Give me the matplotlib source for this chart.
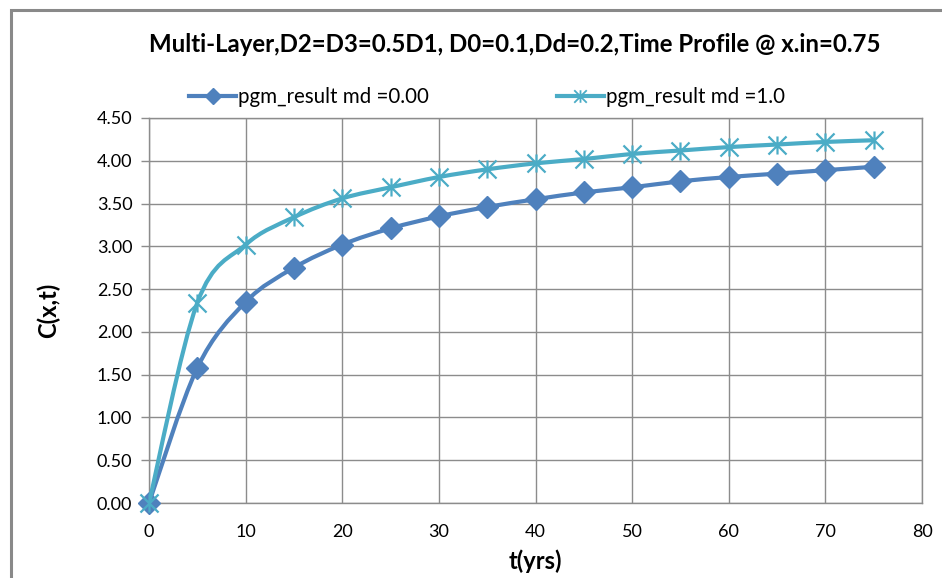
import numpy as np
import matplotlib.pyplot as plt
from matplotlib.path import Path
from matplotlib.patches import PathPatch, Rectangle
from matplotlib.lines import Line2D

plt.rcParams['font.family'] = ['Lato', 'DejaVu Sans']

# time profile at x.in = 0.75
t_yrs = [0, 5, 10, 15, 20, 25, 30, 35, 40, 45, 50, 55, 60, 65, 70, 75]
c_md0 = [0.00, 1.58, 2.35, 2.75, 3.02, 3.21, 3.35, 3.46, 3.55,
         3.63, 3.69, 3.76, 3.81, 3.85, 3.89, 3.93]
c_md1 = [0.00, 2.34, 3.02, 3.34, 3.56, 3.69, 3.81, 3.90, 3.97,
         4.02, 4.08, 4.12, 4.16, 4.19, 4.22, 4.24]
labels = ['pgm_result md =0.00', 'pgm_result md =1.0']
colors = ['#4F81BD', '#4BACC6']

x_ticks = list(range(0, 81, 10))
y_ticks = [0.0, 0.5, 1.0, 1.5, 2.0, 2.5, 3.0, 3.5, 4.0, 4.5]


def smooth_path(xs, ys):
    # catmull-rom style bezier through every point (like a spreadsheet "smoothed line")
    pts = np.column_stack([xs, ys]).astype(float)
    n = len(pts)
    verts = [pts[0]]
    codes = [Path.MOVETO]
    for i in range(n - 1):
        p0 = pts[max(i - 1, 0)]
        p1 = pts[i]
        p2 = pts[i + 1]
        p3 = pts[min(i + 2, n - 1)]
        verts += [p1 + (p2 - p0) / 6, p2 - (p3 - p1) / 6, p2]
        codes += [Path.CURVE4] * 3
    return Path(verts, codes)


# asterisk marker: vertical bar plus an X
star = Path([(0, -1), (0, 1), (-1, -1), (1, 1), (-1, 1), (1, -1)],
            [Path.MOVETO, Path.LINETO, Path.MOVETO, Path.LINETO, Path.MOVETO, Path.LINETO])

fig = plt.figure(figsize=(9.42, 5.78), dpi=100)
ax = fig.add_axes([149 / 942, 1 - 503 / 578, (922 - 149) / 942, (503 - 118) / 578])

# chart frame
fig.patches.append(Rectangle((11 / 942, -0.1), 1.2, 1 - 10 / 578 + 0.1, transform=fig.transFigure,
                             fill=False, edgecolor='#898989', linewidth=2.2, zorder=0))

ax.add_patch(PathPatch(smooth_path(t_yrs, c_md0), fill=False, edgecolor=colors[0],
                       linewidth=3, zorder=3, capstyle='round'))
ax.plot(t_yrs, c_md0, linestyle='none', marker='D', markersize=11,
        color=colors[0], markeredgecolor=colors[0], zorder=4, clip_on=False)

ax.add_patch(PathPatch(smooth_path(t_yrs, c_md1), fill=False, edgecolor=colors[1],
                       linewidth=3, zorder=5, capstyle='round'))
ax.plot(t_yrs, c_md1, linestyle='none', marker=star, markersize=13,
        markeredgewidth=1.6, color=colors[1], markeredgecolor=colors[1], zorder=6, clip_on=False)

ax.set_xlim(0, 80)
ax.set_ylim(0, 4.5)
ax.set_xticks(x_ticks)
ax.set_yticks(y_ticks)
ax.set_yticklabels(['%.2f' % v for v in y_ticks])
ax.tick_params(labelsize=13, colors='#8C8C8C', labelcolor='#000000')
ax.tick_params(axis='y', length=6, width=1, pad=6)
ax.tick_params(axis='x', length=0, pad=15)
ax.grid(True, color='#8C8C8C', linewidth=1)
for s in ax.spines.values():
    s.set_color('#8C8C8C')
    s.set_linewidth(1)

ax.set_xlabel('t(yrs)', fontsize=17, fontweight='bold', labelpad=7)
ax.set_ylabel('C(x,t)', fontsize=17, fontweight='bold', labelpad=26)

fig.text(515 / 942, 1 - 45 / 578, 'Multi-Layer,D2=D3=0.5D1, D0=0.1,Dd=0.2,Time Profile @ x.in=0.75',
         ha='center', va='center', fontsize=17.3, fontweight='bold')

handles = [
    Line2D([], [], color=colors[0], linewidth=3, marker='D', markersize=8),
    Line2D([], [], color=colors[1], linewidth=3, marker=star, markersize=9, markeredgewidth=1.3),
]
fig.legend(handles, labels, loc='center', bbox_to_anchor=(487 / 942, 1 - 97 / 578), ncol=2,
           frameon=False, fontsize=14.8, handlelength=2.3, handletextpad=0.1,
           columnspacing=6.2)

fig.savefig('out.png', dpi=100)
